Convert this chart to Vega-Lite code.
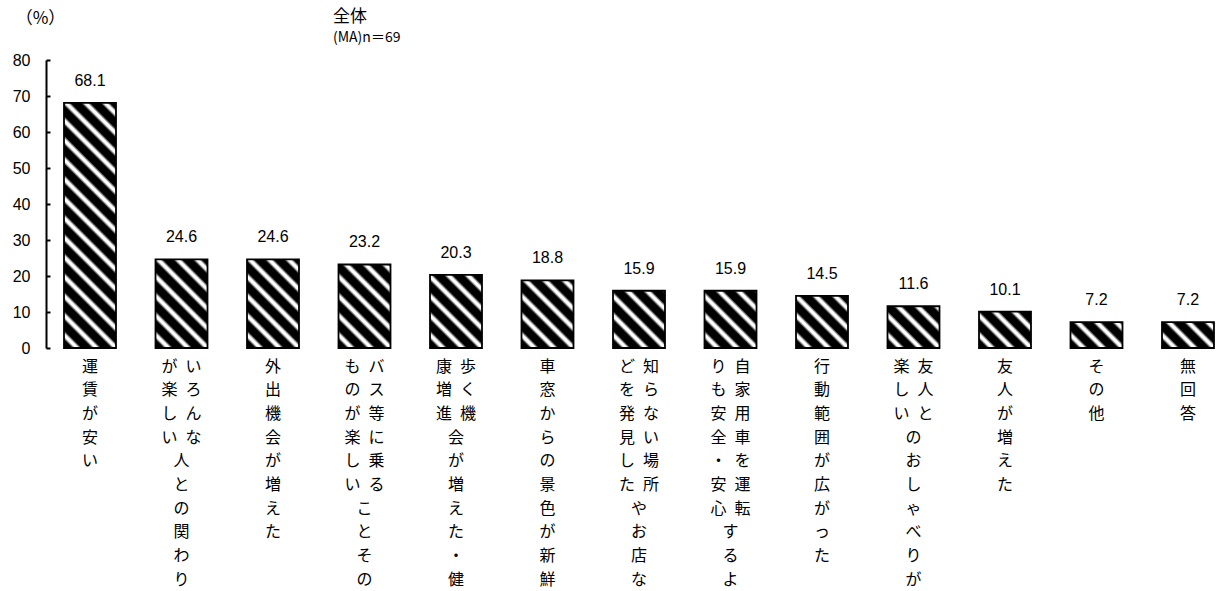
{
  "$schema": "https://vega.github.io/schema/vega-lite/v6.json",
  "autosize": {"type": "none"},
  "padding": {"left": 46, "top": 60, "right": 1, "bottom": 243},
  "width": 1171,
  "height": 288,
  "background": "white",
  "view": {"stroke": null},
  "title": {
    "text": "全体",
    "subtitle": "(MA)n＝69",
    "anchor": "start",
    "frame": "group",
    "dx": 287,
    "dy": 45,
    "font": "Noto Sans CJK JP",
    "fontSize": 17,
    "fontWeight": "normal",
    "color": "#000",
    "subtitleFont": "Noto Sans CJK JP",
    "subtitleFontSize": 14,
    "subtitleColor": "#000",
    "subtitlePadding": 5,
    "offset": 8
  },
  "data": {
    "values": [
      {"label": "運賃が安い", "value": 68.1},
      {"label": "いろんな人との関わりが楽しい", "value": 24.6},
      {"label": "外出機会が増えた", "value": 24.6},
      {"label": "バス等に乗ることそのものが楽しい", "value": 23.2},
      {"label": "歩く機会が増えた・健康増進", "value": 20.3},
      {"label": "車窓からの景色が新鮮", "value": 18.8},
      {"label": "知らない場所やお店などを発見した", "value": 15.9},
      {"label": "自家用車を運転するよりも安全・安心", "value": 15.9},
      {"label": "行動範囲が広がった", "value": 14.5},
      {"label": "友人とのおしゃべりが楽しい", "value": 11.6},
      {"label": "友人が増えた", "value": 10.1},
      {"label": "その他", "value": 7.2},
      {"label": "無回答", "value": 7.2}
    ]
  },
  "encoding": {
    "x": {
      "field": "label",
      "type": "nominal",
      "sort": null,
      "scale": {"paddingInner": 0.4317, "paddingOuter": 0.1148, "align": 0.857},
      "axis": {
        "title": null,
        "domain": false,
        "ticks": false,
        "labelAngle": 0,
        "labelAlign": "center",
        "labelBaseline": "top",
        "labelPadding": 10,
        "labelFont": "Noto Sans CJK JP",
        "labelFontSize": 16,
        "labelColor": "#000",
        "labelLineHeight": 23.7,
        "labelOverlap": false,
        "labelLimit": 0,
        "labelExpr": "length(datum.label) > 10 ? [(substring(datum.label,10,11) || '　') + '\u2002' + substring(datum.label,0,1), (substring(datum.label,11,12) || '　') + '\u2002' + substring(datum.label,1,2), (substring(datum.label,12,13) || '　') + '\u2002' + substring(datum.label,2,3), (substring(datum.label,13,14) || '　') + '\u2002' + substring(datum.label,3,4), (substring(datum.label,14,15) || '　') + '\u2002' + substring(datum.label,4,5), (substring(datum.label,15,16) || '　') + '\u2002' + substring(datum.label,5,6), (substring(datum.label,16,17) || '　') + '\u2002' + substring(datum.label,6,7), (substring(datum.label,17,18) || '　') + '\u2002' + substring(datum.label,7,8), (substring(datum.label,18,19) || '　') + '\u2002' + substring(datum.label,8,9), (substring(datum.label,19,20) || '　') + '\u2002' + substring(datum.label,9,10)] : split(datum.label, '')"
      }
    },
    "y": {
      "field": "value",
      "type": "quantitative",
      "scale": {"domain": [0, 80], "nice": false},
      "axis": {
        "values": [0, 10, 20, 30, 40, 50, 60, 70, 80],
        "grid": false,
        "domainColor": "#000",
        "domainWidth": 2,
        "tickColor": "#000",
        "tickWidth": 2,
        "tickSize": -4,
        "labelPadding": 20,
        "labelFont": "Liberation Sans",
        "labelFontSize": 16,
        "labelColor": "#000",
        "title": "（%）",
        "titleAngle": 0,
        "titleX": -6,
        "titleY": -42,
        "titleAlign": "center",
        "titleBaseline": "middle",
        "titleFont": "Noto Sans CJK JP",
        "titleFontSize": 17,
        "titleFontWeight": "normal",
        "titleColor": "#000"
      }
    }
  },
  "layer": [
    {
      "mark": {"type": "bar", "stroke": "#000", "strokeWidth": 1.8},
      "encoding": {
        "fill": {
          "condition": [
            {"test": "datum.value > 60", "value": {"gradient": "linear", "x1": 0, "y1": 1, "x2": 0.25832, "y2": -0.21786, "stops": [
              {"offset": 0, "color": "#000"},
              {"offset": 0.02625, "color": "#000"}, {"offset": 0.0375, "color": "#fff"}, {"offset": 0.046875, "color": "#fff"}, {"offset": 0.058125, "color": "#000"},
              {"offset": 0.08875, "color": "#000"}, {"offset": 0.1, "color": "#fff"}, {"offset": 0.109375, "color": "#fff"}, {"offset": 0.120625, "color": "#000"},
              {"offset": 0.15125, "color": "#000"}, {"offset": 0.1625, "color": "#fff"}, {"offset": 0.171875, "color": "#fff"}, {"offset": 0.183125, "color": "#000"},
              {"offset": 0.21375, "color": "#000"}, {"offset": 0.225, "color": "#fff"}, {"offset": 0.234375, "color": "#fff"}, {"offset": 0.245625, "color": "#000"},
              {"offset": 0.27625, "color": "#000"}, {"offset": 0.2875, "color": "#fff"}, {"offset": 0.296875, "color": "#fff"}, {"offset": 0.308125, "color": "#000"},
              {"offset": 0.33875, "color": "#000"}, {"offset": 0.35, "color": "#fff"}, {"offset": 0.359375, "color": "#fff"}, {"offset": 0.370625, "color": "#000"},
              {"offset": 0.40125, "color": "#000"}, {"offset": 0.4125, "color": "#fff"}, {"offset": 0.421875, "color": "#fff"}, {"offset": 0.433125, "color": "#000"},
              {"offset": 0.46375, "color": "#000"}, {"offset": 0.475, "color": "#fff"}, {"offset": 0.484375, "color": "#fff"}, {"offset": 0.495625, "color": "#000"},
              {"offset": 0.52625, "color": "#000"}, {"offset": 0.5375, "color": "#fff"}, {"offset": 0.546875, "color": "#fff"}, {"offset": 0.558125, "color": "#000"},
              {"offset": 0.58875, "color": "#000"}, {"offset": 0.6, "color": "#fff"}, {"offset": 0.609375, "color": "#fff"}, {"offset": 0.620625, "color": "#000"},
              {"offset": 0.65125, "color": "#000"}, {"offset": 0.6625, "color": "#fff"}, {"offset": 0.671875, "color": "#fff"}, {"offset": 0.683125, "color": "#000"},
              {"offset": 0.71375, "color": "#000"}, {"offset": 0.725, "color": "#fff"}, {"offset": 0.734375, "color": "#fff"}, {"offset": 0.745625, "color": "#000"},
              {"offset": 0.77625, "color": "#000"}, {"offset": 0.7875, "color": "#fff"}, {"offset": 0.796875, "color": "#fff"}, {"offset": 0.808125, "color": "#000"},
              {"offset": 0.83875, "color": "#000"}, {"offset": 0.85, "color": "#fff"}, {"offset": 0.859375, "color": "#fff"}, {"offset": 0.870625, "color": "#000"},
              {"offset": 0.90125, "color": "#000"}, {"offset": 0.9125, "color": "#fff"}, {"offset": 0.921875, "color": "#fff"}, {"offset": 0.933125, "color": "#000"},
              {"offset": 0.96375, "color": "#000"}, {"offset": 0.975, "color": "#fff"}, {"offset": 0.984375, "color": "#fff"}, {"offset": 0.995625, "color": "#000"}
            ]}},
            {"test": "datum.value > 24", "value": {"gradient": "linear", "x1": 0, "y1": 1, "x2": 1.53828, "y2": -1.61978, "stops": [
              {"offset": 0, "color": "#000"},
              {"offset": 0.02625, "color": "#000"}, {"offset": 0.0375, "color": "#fff"}, {"offset": 0.046875, "color": "#fff"}, {"offset": 0.058125, "color": "#000"},
              {"offset": 0.08875, "color": "#000"}, {"offset": 0.1, "color": "#fff"}, {"offset": 0.109375, "color": "#fff"}, {"offset": 0.120625, "color": "#000"},
              {"offset": 0.15125, "color": "#000"}, {"offset": 0.1625, "color": "#fff"}, {"offset": 0.171875, "color": "#fff"}, {"offset": 0.183125, "color": "#000"},
              {"offset": 0.21375, "color": "#000"}, {"offset": 0.225, "color": "#fff"}, {"offset": 0.234375, "color": "#fff"}, {"offset": 0.245625, "color": "#000"},
              {"offset": 0.27625, "color": "#000"}, {"offset": 0.2875, "color": "#fff"}, {"offset": 0.296875, "color": "#fff"}, {"offset": 0.308125, "color": "#000"},
              {"offset": 0.33875, "color": "#000"}, {"offset": 0.35, "color": "#fff"}, {"offset": 0.359375, "color": "#fff"}, {"offset": 0.370625, "color": "#000"},
              {"offset": 0.40125, "color": "#000"}, {"offset": 0.4125, "color": "#fff"}, {"offset": 0.421875, "color": "#fff"}, {"offset": 0.433125, "color": "#000"},
              {"offset": 0.46375, "color": "#000"}, {"offset": 0.475, "color": "#fff"}, {"offset": 0.484375, "color": "#fff"}, {"offset": 0.495625, "color": "#000"}
            ]}},
            {"test": "datum.value > 22", "value": {"gradient": "linear", "x1": 0, "y1": 1, "x2": 1.67613, "y2": -1.6921, "stops": [
              {"offset": 0, "color": "#000"},
              {"offset": 0.02625, "color": "#000"}, {"offset": 0.0375, "color": "#fff"}, {"offset": 0.046875, "color": "#fff"}, {"offset": 0.058125, "color": "#000"},
              {"offset": 0.08875, "color": "#000"}, {"offset": 0.1, "color": "#fff"}, {"offset": 0.109375, "color": "#fff"}, {"offset": 0.120625, "color": "#000"},
              {"offset": 0.15125, "color": "#000"}, {"offset": 0.1625, "color": "#fff"}, {"offset": 0.171875, "color": "#fff"}, {"offset": 0.183125, "color": "#000"},
              {"offset": 0.21375, "color": "#000"}, {"offset": 0.225, "color": "#fff"}, {"offset": 0.234375, "color": "#fff"}, {"offset": 0.245625, "color": "#000"},
              {"offset": 0.27625, "color": "#000"}, {"offset": 0.2875, "color": "#fff"}, {"offset": 0.296875, "color": "#fff"}, {"offset": 0.308125, "color": "#000"},
              {"offset": 0.33875, "color": "#000"}, {"offset": 0.35, "color": "#fff"}, {"offset": 0.359375, "color": "#fff"}, {"offset": 0.370625, "color": "#000"},
              {"offset": 0.40125, "color": "#000"}, {"offset": 0.4125, "color": "#fff"}, {"offset": 0.421875, "color": "#fff"}, {"offset": 0.433125, "color": "#000"},
              {"offset": 0.46375, "color": "#000"}, {"offset": 0.475, "color": "#fff"}, {"offset": 0.484375, "color": "#fff"}, {"offset": 0.495625, "color": "#000"}
            ]}},
            {"test": "datum.value > 20", "value": {"gradient": "linear", "x1": 0, "y1": 1, "x2": 2.01673, "y2": -1.83426, "stops": [
              {"offset": 0, "color": "#000"},
              {"offset": 0.02625, "color": "#000"}, {"offset": 0.0375, "color": "#fff"}, {"offset": 0.046875, "color": "#fff"}, {"offset": 0.058125, "color": "#000"},
              {"offset": 0.08875, "color": "#000"}, {"offset": 0.1, "color": "#fff"}, {"offset": 0.109375, "color": "#fff"}, {"offset": 0.120625, "color": "#000"},
              {"offset": 0.15125, "color": "#000"}, {"offset": 0.1625, "color": "#fff"}, {"offset": 0.171875, "color": "#fff"}, {"offset": 0.183125, "color": "#000"},
              {"offset": 0.21375, "color": "#000"}, {"offset": 0.225, "color": "#fff"}, {"offset": 0.234375, "color": "#fff"}, {"offset": 0.245625, "color": "#000"},
              {"offset": 0.27625, "color": "#000"}, {"offset": 0.2875, "color": "#fff"}, {"offset": 0.296875, "color": "#fff"}, {"offset": 0.308125, "color": "#000"},
              {"offset": 0.33875, "color": "#000"}, {"offset": 0.35, "color": "#fff"}, {"offset": 0.359375, "color": "#fff"}, {"offset": 0.370625, "color": "#000"},
              {"offset": 0.40125, "color": "#000"}, {"offset": 0.4125, "color": "#fff"}, {"offset": 0.421875, "color": "#fff"}, {"offset": 0.433125, "color": "#000"}
            ]}},
            {"test": "datum.value > 17", "value": {"gradient": "linear", "x1": 0, "y1": 1, "x2": 2.22717, "y2": -1.89874, "stops": [
              {"offset": 0, "color": "#000"},
              {"offset": 0.02625, "color": "#000"}, {"offset": 0.0375, "color": "#fff"}, {"offset": 0.046875, "color": "#fff"}, {"offset": 0.058125, "color": "#000"},
              {"offset": 0.08875, "color": "#000"}, {"offset": 0.1, "color": "#fff"}, {"offset": 0.109375, "color": "#fff"}, {"offset": 0.120625, "color": "#000"},
              {"offset": 0.15125, "color": "#000"}, {"offset": 0.1625, "color": "#fff"}, {"offset": 0.171875, "color": "#fff"}, {"offset": 0.183125, "color": "#000"},
              {"offset": 0.21375, "color": "#000"}, {"offset": 0.225, "color": "#fff"}, {"offset": 0.234375, "color": "#fff"}, {"offset": 0.245625, "color": "#000"},
              {"offset": 0.27625, "color": "#000"}, {"offset": 0.2875, "color": "#fff"}, {"offset": 0.296875, "color": "#fff"}, {"offset": 0.308125, "color": "#000"},
              {"offset": 0.33875, "color": "#000"}, {"offset": 0.35, "color": "#fff"}, {"offset": 0.359375, "color": "#fff"}, {"offset": 0.370625, "color": "#000"},
              {"offset": 0.40125, "color": "#000"}, {"offset": 0.4125, "color": "#fff"}, {"offset": 0.421875, "color": "#fff"}, {"offset": 0.433125, "color": "#000"}
            ]}},
            {"test": "datum.value > 15", "value": {"gradient": "linear", "x1": 0, "y1": 1, "x2": 2.71285, "y2": -1.98622, "stops": [
              {"offset": 0, "color": "#000"},
              {"offset": 0.02625, "color": "#000"}, {"offset": 0.0375, "color": "#fff"}, {"offset": 0.046875, "color": "#fff"}, {"offset": 0.058125, "color": "#000"},
              {"offset": 0.08875, "color": "#000"}, {"offset": 0.1, "color": "#fff"}, {"offset": 0.109375, "color": "#fff"}, {"offset": 0.120625, "color": "#000"},
              {"offset": 0.15125, "color": "#000"}, {"offset": 0.1625, "color": "#fff"}, {"offset": 0.171875, "color": "#fff"}, {"offset": 0.183125, "color": "#000"},
              {"offset": 0.21375, "color": "#000"}, {"offset": 0.225, "color": "#fff"}, {"offset": 0.234375, "color": "#fff"}, {"offset": 0.245625, "color": "#000"},
              {"offset": 0.27625, "color": "#000"}, {"offset": 0.2875, "color": "#fff"}, {"offset": 0.296875, "color": "#fff"}, {"offset": 0.308125, "color": "#000"},
              {"offset": 0.33875, "color": "#000"}, {"offset": 0.35, "color": "#fff"}, {"offset": 0.359375, "color": "#fff"}, {"offset": 0.370625, "color": "#000"}
            ]}},
            {"test": "datum.value > 13", "value": {"gradient": "linear", "x1": 0, "y1": 1, "x2": 2.98851, "y2": -2.0, "stops": [
              {"offset": 0, "color": "#000"},
              {"offset": 0.02625, "color": "#000"}, {"offset": 0.0375, "color": "#fff"}, {"offset": 0.046875, "color": "#fff"}, {"offset": 0.058125, "color": "#000"},
              {"offset": 0.08875, "color": "#000"}, {"offset": 0.1, "color": "#fff"}, {"offset": 0.109375, "color": "#fff"}, {"offset": 0.120625, "color": "#000"},
              {"offset": 0.15125, "color": "#000"}, {"offset": 0.1625, "color": "#fff"}, {"offset": 0.171875, "color": "#fff"}, {"offset": 0.183125, "color": "#000"},
              {"offset": 0.21375, "color": "#000"}, {"offset": 0.225, "color": "#fff"}, {"offset": 0.234375, "color": "#fff"}, {"offset": 0.245625, "color": "#000"},
              {"offset": 0.27625, "color": "#000"}, {"offset": 0.2875, "color": "#fff"}, {"offset": 0.296875, "color": "#fff"}, {"offset": 0.308125, "color": "#000"},
              {"offset": 0.33875, "color": "#000"}, {"offset": 0.35, "color": "#fff"}, {"offset": 0.359375, "color": "#fff"}, {"offset": 0.370625, "color": "#000"}
            ]}},
            {"test": "datum.value > 11", "value": {"gradient": "linear", "x1": 0, "y1": 1, "x2": 3.64755, "y2": -1.92926, "stops": [
              {"offset": 0, "color": "#000"},
              {"offset": 0.02625, "color": "#000"}, {"offset": 0.0375, "color": "#fff"}, {"offset": 0.046875, "color": "#fff"}, {"offset": 0.058125, "color": "#000"},
              {"offset": 0.08875, "color": "#000"}, {"offset": 0.1, "color": "#fff"}, {"offset": 0.109375, "color": "#fff"}, {"offset": 0.120625, "color": "#000"},
              {"offset": 0.15125, "color": "#000"}, {"offset": 0.1625, "color": "#fff"}, {"offset": 0.171875, "color": "#fff"}, {"offset": 0.183125, "color": "#000"},
              {"offset": 0.21375, "color": "#000"}, {"offset": 0.225, "color": "#fff"}, {"offset": 0.234375, "color": "#fff"}, {"offset": 0.245625, "color": "#000"},
              {"offset": 0.27625, "color": "#000"}, {"offset": 0.2875, "color": "#fff"}, {"offset": 0.296875, "color": "#fff"}, {"offset": 0.308125, "color": "#000"},
              {"offset": 0.33875, "color": "#000"}, {"offset": 0.35, "color": "#fff"}, {"offset": 0.359375, "color": "#fff"}, {"offset": 0.370625, "color": "#000"}
            ]}},
            {"test": "datum.value > 9", "value": {"gradient": "linear", "x1": 0, "y1": 1, "x2": 4.02979, "y2": -1.81775, "stops": [
              {"offset": 0, "color": "#000"},
              {"offset": 0.02625, "color": "#000"}, {"offset": 0.0375, "color": "#fff"}, {"offset": 0.046875, "color": "#fff"}, {"offset": 0.058125, "color": "#000"},
              {"offset": 0.08875, "color": "#000"}, {"offset": 0.1, "color": "#fff"}, {"offset": 0.109375, "color": "#fff"}, {"offset": 0.120625, "color": "#000"},
              {"offset": 0.15125, "color": "#000"}, {"offset": 0.1625, "color": "#fff"}, {"offset": 0.171875, "color": "#fff"}, {"offset": 0.183125, "color": "#000"},
              {"offset": 0.21375, "color": "#000"}, {"offset": 0.225, "color": "#fff"}, {"offset": 0.234375, "color": "#fff"}, {"offset": 0.245625, "color": "#000"},
              {"offset": 0.27625, "color": "#000"}, {"offset": 0.2875, "color": "#fff"}, {"offset": 0.296875, "color": "#fff"}, {"offset": 0.308125, "color": "#000"}
            ]}}
          ],
          "value": {"gradient": "linear", "x1": 0, "y1": 1, "x2": 4.80591, "y2": -1.39555, "stops": [
            {"offset": 0, "color": "#000"},
            {"offset": 0.02625, "color": "#000"}, {"offset": 0.0375, "color": "#fff"}, {"offset": 0.046875, "color": "#fff"}, {"offset": 0.058125, "color": "#000"},
            {"offset": 0.08875, "color": "#000"}, {"offset": 0.1, "color": "#fff"}, {"offset": 0.109375, "color": "#fff"}, {"offset": 0.120625, "color": "#000"},
            {"offset": 0.15125, "color": "#000"}, {"offset": 0.1625, "color": "#fff"}, {"offset": 0.171875, "color": "#fff"}, {"offset": 0.183125, "color": "#000"},
            {"offset": 0.21375, "color": "#000"}, {"offset": 0.225, "color": "#fff"}, {"offset": 0.234375, "color": "#fff"}, {"offset": 0.245625, "color": "#000"},
            {"offset": 0.27625, "color": "#000"}, {"offset": 0.2875, "color": "#fff"}, {"offset": 0.296875, "color": "#fff"}, {"offset": 0.308125, "color": "#000"}
          ]}
        }
      }
    },
    {
      "mark": {"type": "text", "baseline": "alphabetic", "align": "center", "dy": -17, "font": "Liberation Sans", "fontSize": 16, "color": "#000"},
      "encoding": {
        "text": {"field": "value", "type": "quantitative", "format": ".1f"}
      }
    }
  ]
}
